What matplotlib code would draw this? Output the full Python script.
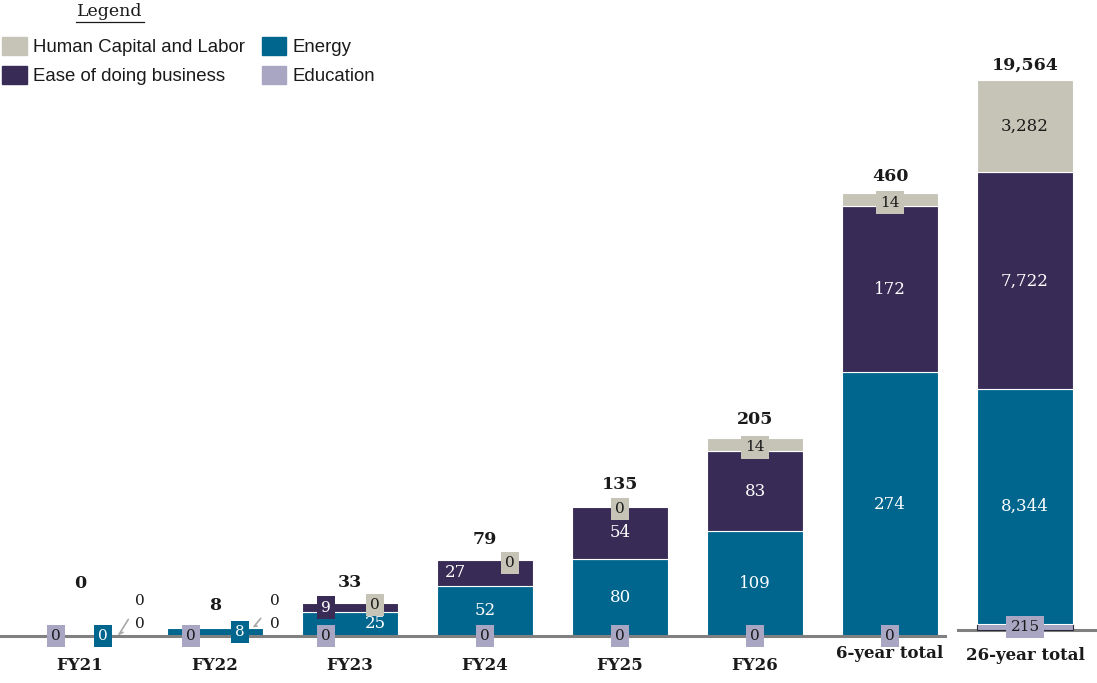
import matplotlib
matplotlib.use('Agg')
import matplotlib.pyplot as plt
from matplotlib.patches import Patch
from matplotlib.lines import Line2D

categories = ['FY21', 'FY22', 'FY23', 'FY24', 'FY25', 'FY26', '6-year total', '26-year total']
education = [0, 0, 0, 0, 0, 0, 0, 215]
energy = [0, 8, 25, 52, 80, 109, 274, 8344]
ease = [0, 0, 9, 27, 54, 83, 172, 7722]
hcl = [0, 0, 0, 0, 0, 14, 14, 3282]
totals = [0, 8, 33, 79, 135, 205, 460, 19564]

c_hcl = '#c5c4b6'
c_energy = '#00668e'
c_ease = '#382c57'
c_edu = '#a9a6c4'
c_axis = '#808080'

serif = 'DejaVu Serif'
sans = 'Liberation Sans'

fig = plt.figure(figsize=(10.97, 6.83), dpi=100)
# main axes (FY bars + 6-year total) and a second scale for the 26-year total
ax = fig.add_axes([0, 0, 1, 1])
ax2 = fig.add_axes([0, 0, 1, 1])
for a in (ax, ax2):
    a.set_xlim(-0.593, 7.533)
    a.axis('off')
    a.patch.set_alpha(0)
ax.set_ylim(-48.8, 660.4)
ax2.set_ylim(-1885, 22412)

width = 0.71
n_main = 7


def fmt(v):
    return '{:,}'.format(v)


def box(a, x, y, txt, fc, color='#1a1a1a'):
    a.text(x, y, txt, ha='center', va='center', fontsize=11, family=serif, color=color,
           bbox=dict(boxstyle='square,pad=0.28', fc=fc, ec='none'), zorder=5)


def inner(a, x, y, txt, color='white'):
    a.text(x, y, txt, ha='center', va='center', fontsize=12, family=serif, color=color, zorder=5)


# bars
for i in range(len(categories)):
    a = ax if i < n_main else ax2
    bottom = 0
    for vals, col in ((education, c_edu), (energy, c_energy), (ease, c_ease), (hcl, c_hcl)):
        v = vals[i]
        if v > 0:
            ec = '#2a2a3a' if col == c_edu else 'white'
            a.bar(i, v, width, bottom=bottom, color=col, edgecolor=ec, linewidth=0.8, zorder=2)
        bottom += v

# baselines
ax.axhline(0, xmin=0, xmax=945 / 1097, color=c_axis, lw=2.2, zorder=3)
ax2.axhline(0, xmin=958 / 1097, xmax=1.0, color=c_axis, lw=2.2, zorder=1)

# education boxes on baseline
edu_dx = [-0.18, -0.18, -0.18, 0, 0, 0, 0, 0]
for i in range(len(categories)):
    a = ax if i < n_main else ax2
    box(a, i + edu_dx[i], education[i] / 2, fmt(education[i]), c_edu)

# FY21 / FY22 small labels with leader lines
box(ax, 0.17, 0, '0', c_energy, 'white')
box(ax, 1.185, energy[1] / 2, fmt(energy[1]), c_energy, 'white')
for i in (0, 1):
    x0 = i + 0.29
    y0 = energy[i] + 2
    for yt, val in ((36, ease[i]), (12, hcl[i])):
        ax.annotate(fmt(val), xy=(x0, y0), xytext=(i + 0.44, yt), ha='center', va='center',
                    fontsize=11, family=serif, color='#1a1a1a',
                    arrowprops=dict(arrowstyle='-', color='#a8a8a8', lw=1.2, shrinkA=7, shrinkB=0))

# FY23
inner(ax, 2.185, energy[2] / 2, fmt(energy[2]))
box(ax, 1.82, energy[2] + ease[2] / 2, fmt(ease[2]), c_ease, 'white')
box(ax, 2.185, energy[2] + ease[2] - 2, fmt(hcl[2]), c_hcl)
# FY24
inner(ax, 3, energy[3] / 2, fmt(energy[3]))
inner(ax, 2.78, energy[3] + ease[3] / 2, fmt(ease[3]))
box(ax, 3.185, energy[3] + ease[3] - 3, fmt(hcl[3]), c_hcl)
# FY25
inner(ax, 4, energy[4] / 2, fmt(energy[4]))
inner(ax, 4, energy[4] + ease[4] / 2, fmt(ease[4]))
box(ax, 4, energy[4] + ease[4] - 2, fmt(hcl[4]), c_hcl)
# FY26 and 6-year total
for i in (5, 6):
    inner(ax, i, energy[i] / 2, fmt(energy[i]))
    inner(ax, i, energy[i] + ease[i] / 2, fmt(ease[i]))
    box(ax, i, energy[i] + ease[i] + hcl[i] / 2 - 3, fmt(hcl[i]), c_hcl)
# 26-year total
b = education[7]
inner(ax2, 7, b + energy[7] / 2, fmt(energy[7]))
inner(ax2, 7, b + energy[7] + ease[7] / 2, fmt(ease[7]))
inner(ax2, 7, b + energy[7] + ease[7] + hcl[7] / 2, fmt(hcl[7]), '#1a1a1a')

# totals
tot_off = [44, 14, 12, 12, 14, 10, 8]
for i in range(n_main):
    ax.annotate(fmt(totals[i]), xy=(i, sum([energy[i], ease[i], hcl[i], education[i]])),
                xytext=(0, tot_off[i]), textcoords='offset pixels', ha='center', va='bottom',
                fontsize=12.5, family=serif, fontweight='bold', color='#1a1a1a')
ax2.annotate(fmt(totals[7]), xy=(7, totals[7]), xytext=(0, 6), textcoords='offset pixels',
             ha='center', va='bottom', fontsize=12.5, family=serif, fontweight='bold', color='#1a1a1a')

# category labels
lab_off = [-29, -29, -29, -29, -29, -29, -17, -19]
for i, c in enumerate(categories):
    ax.annotate(c, xy=(i, 0), xytext=(0, lab_off[i]), textcoords='offset pixels',
                ha='center', va='center', fontsize=12, family=serif, fontweight='bold',
                color='#1a1a1a')

# legend
fig.text(110 / 1097, 1 - 12 / 683, 'Legend', ha='center', va='center', fontsize=12.5,
         family=serif, color='#1a1a1a')
fig.add_artist(Line2D([76 / 1097, 144 / 1097], [1 - 22 / 683, 1 - 22 / 683], color='#1a1a1a', lw=0.9))
handles = [Patch(color=c_hcl, label='Human Capital and Labor'),
           Patch(color=c_ease, label='Ease of doing business'),
           Patch(color=c_energy, label='Energy'),
           Patch(color=c_edu, label='Education')]
leg = fig.legend(handles=handles, ncol=2, loc='upper left', bbox_to_anchor=(2 / 1097, 1 - 37 / 683),
                 frameon=False, borderpad=0, borderaxespad=0, handlelength=1.33, handleheight=1.07,
                 handletextpad=0.33, labelspacing=0.55, columnspacing=0.9,
                 prop={'family': sans, 'size': 13.4})
for t in leg.get_texts():
    t.set_color('#1a1a1a')

fig.savefig('out.png', dpi=100)
